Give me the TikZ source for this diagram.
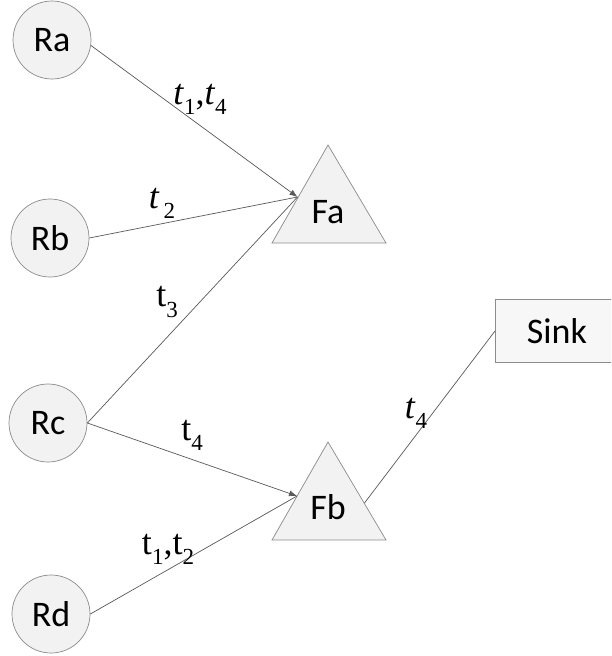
\documentclass[tikz,border=0pt]{standalone}
\usepackage{fontspec}
\setmainfont{Carlito}
\newfontfamily\tfont{Liberation Serif}
\usetikzlibrary{arrows.meta}
\newcommand\tsub[2]{#1\raisebox{-0.28em}{\fontsize{23}{25}\selectfont #2}}
\begin{document}
\begin{tikzpicture}[x=1pt,y=-1pt,
  circ/.style={circle, draw=gray!90, fill=gray!10, minimum size=78pt, inner sep=0pt, line width=0.7pt, font=\fontsize{36}{40}\selectfont},
  trishape/.style={draw=gray!90, fill=gray!10, line width=0.7pt, line join=miter},
  boxshape/.style={draw=gray!90, fill=gray!6, line width=0.7pt},
  lbl/.style={inner sep=0pt, font=\fontsize{36}{40}\selectfont},
  edge/.style={draw=black!65, line width=0.7pt},
  arr/.style={edge, -{Latex[length=8pt,width=6pt]}},
  tl/.style={inner sep=0pt, font=\tfont\fontsize{36}{38}\selectfont}]
\fill[white] (0,0) rectangle (611,656);
\useasboundingbox (0,0) rectangle (611,656);
\clip (0,0) rectangle (611,656);
% circles
\node[circ] (Ra) at (52,40) {Ra};
\node[circ] (Rb) at (50,238) {Rb};
\node[circ] (Rc) at (48,423) {Rc};
\node[circ] (Rd) at (51,614) {Rd};
% triangles
\draw[trishape] (328,145) -- (386,243) -- (272,243) -- cycle;
\node[lbl] (Fa) at (328,212) {Fa};
\draw[trishape] (328,442) -- (386,540) -- (272,540) -- cycle;
\node[lbl] (Fb) at (328,507) {Fb};
% sink
\draw[boxshape] (495,299) rectangle (640,362);
\node[lbl] (Sink) at (557,331) {Sink};
\coordinate (sinkw) at (495,331);
% connection points
\coordinate (fain) at (297.5,197);
\coordinate (fbin) at (297,496);
\coordinate (fbout) at (364.5,503);
% edges
\draw[arr] (Ra.-8) -- (fain);
\draw[edge] (Rb.east) -- (fain);
\draw[edge] (Rc.east) -- (fain);
\draw[arr] (Rc.east) -- (fbin);
\draw[edge] (Rd.east) -- (fbin);
\draw[edge] (fbout) -- (sinkw);
% labels
\node[tl] (l14) at (200,99) {\tsub{\textit{t}}{1},\tsub{\textit{t}}{4}};
\node[tl] (l2) at (162,203) {\tsub{\textit{t}}{\,2}};
\node[tl] (l3) at (167,302) {\tsub{t}{3}};
\node[tl] (l4) at (192,435) {\tsub{t}{4}};
\node[tl] (l12) at (168,549) {\tsub{t}{1},\tsub{t}{2}};
\node[tl] (l4b) at (416,413) {\tsub{\textit{t}}{4}};
\end{tikzpicture}
\end{document}
